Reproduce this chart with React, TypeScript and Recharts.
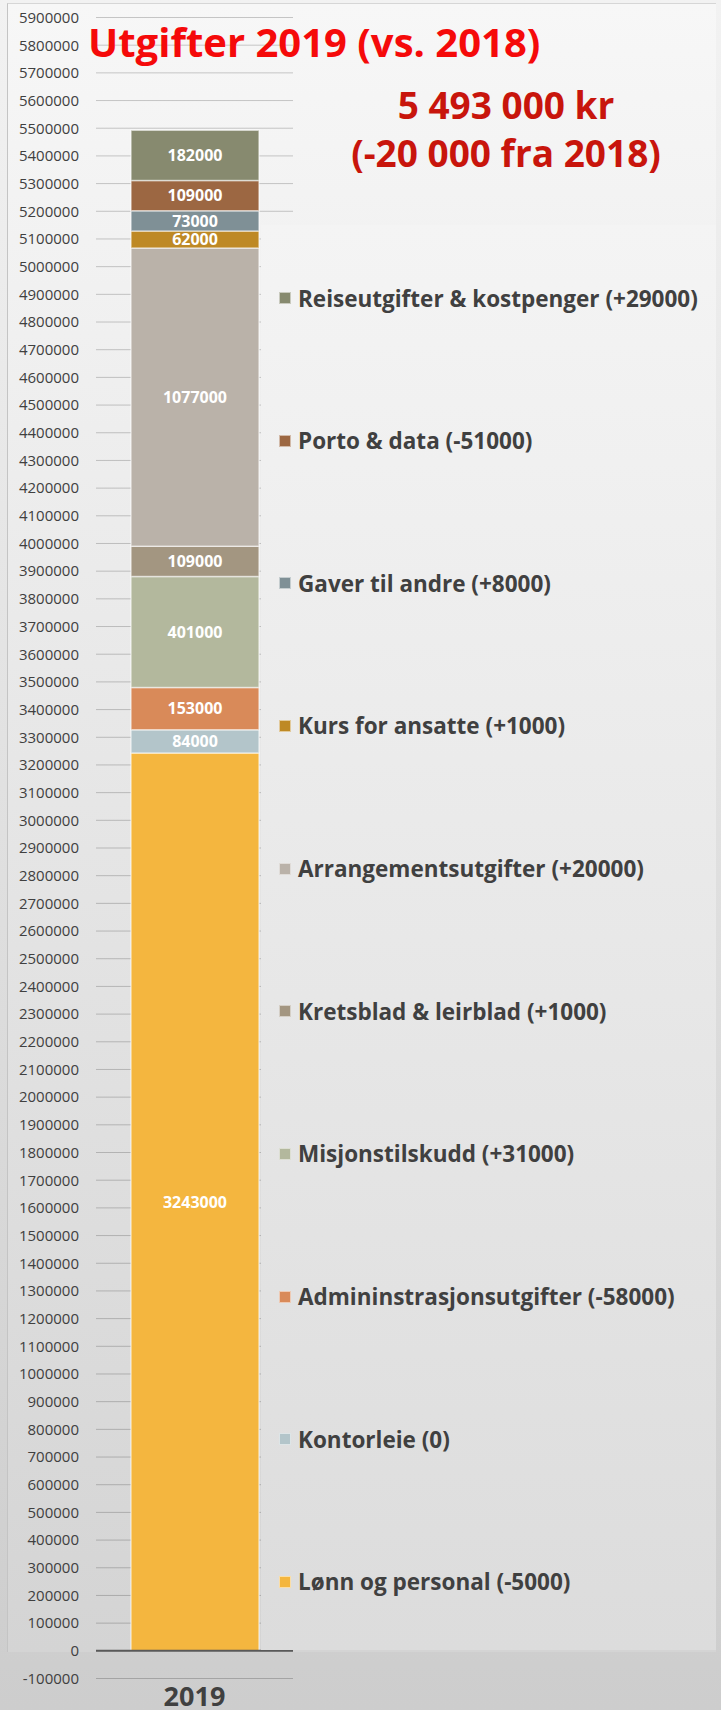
import { BarChart, Bar, XAxis, YAxis, CartesianGrid, Legend, LabelList, ReferenceLine } from 'recharts'

const YEARS = ['2019']

const CATEGORIES = [
  'Lønn og personal',
  'Kontorleie',
  'Admininstrasjonsutgifter',
  'Misjonstilskudd',
  'Kretsblad & leirblad',
  'Arrangementsutgifter',
  'Kurs for ansatte',
  'Gaver til andre',
  'Porto & data',
  'Reiseutgifter & kostpenger',
]

const VALUES_2019 = [3243000, 84000, 153000, 401000, 109000, 1077000, 62000, 73000, 109000, 182000]

const CHANGE_VS_2018 = ['-5000', '0', '-58000', '+31000', '+1000', '+20000', '+1000', '+8000', '-51000', '+29000']

const COLORS = [
  '#f4b63f',
  '#b3c5ca',
  '#d98a59',
  '#b3b89d',
  '#a39681',
  '#bab2a9',
  '#be8925',
  '#7f9096',
  '#9c6742',
  '#878a6f',
]

const Y_TICKS = [
  -100000, 0, 100000, 200000, 300000, 400000, 500000, 600000, 700000, 800000, 900000,
  1000000, 1100000, 1200000, 1300000, 1400000, 1500000, 1600000, 1700000, 1800000, 1900000,
  2000000, 2100000, 2200000, 2300000, 2400000, 2500000, 2600000, 2700000, 2800000, 2900000,
  3000000, 3100000, 3200000, 3300000, 3400000, 3500000, 3600000, 3700000, 3800000, 3900000,
  4000000, 4100000, 4200000, 4300000, 4400000, 4500000, 4600000, 4700000, 4800000, 4900000,
  5000000, 5100000, 5200000, 5300000, 5400000, 5500000, 5600000, 5700000, 5800000, 5900000,
]

const TITLE = 'Utgifter 2019 (vs. 2018)'
const TOTAL_TEXT = '5 493 000 kr'
const DIFF_TEXT = '(-20 000 fra 2018)'

const FONT = '"Open Sans", "DejaVu Sans", sans-serif'
const TEXT_GREY = '#404040'

const data = YEARS.map((year) => {
  const row: Record<string, string | number> = { year }
  CATEGORIES.forEach((_, i) => {
    row[`s${i}`] = VALUES_2019[i]
  })
  return row
})

// legend lists the top segment first, so go by series index, highest first
// eslint-disable-next-line @typescript-eslint/no-explicit-any
function LegendContent({ payload }: any) {
  const idx = (it: any) => Number(String(it.dataKey).slice(1))
  const items = [...(payload ?? [])].sort((a, b) => idx(b) - idx(a))
  return (
    <div style={{ paddingTop: 1.7, paddingLeft: 18, fontFamily: FONT }}>
      {items.map((it: any) => (
        <div key={it.value} style={{ height: 142.67, display: 'flex', alignItems: 'center' }}>
          <span
            style={{
              width: 12,
              height: 12,
              background: it.color,
              boxSizing: 'border-box',
              border: '1px solid rgba(255,255,255,0.55)',
              marginRight: 7,
              flex: 'none',
            }}
          />
          <span style={{ fontSize: 22.5, fontWeight: 700, color: TEXT_GREY, whiteSpace: 'nowrap' }}>{it.value}</span>
        </div>
      ))}
    </div>
  )
}

// eslint-disable-next-line @typescript-eslint/no-explicit-any
function YearTick({ x, y, payload }: any) {
  return (
    <text x={x} y={y + 25} textAnchor="middle" fontFamily={FONT} fontSize={27} fontWeight={700} fill={TEXT_GREY}>
      {payload.value}
    </text>
  )
}

export default function App() {
  return (
    <div
      style={{
        position: 'absolute',
        left: 0,
        top: 0,
        width: 721,
        height: 1710,
        background: 'linear-gradient(#f2f2f2, #cdcdcd)',
        overflow: 'hidden',
      }}
    >
      <div
        style={{
          position: 'absolute',
          left: 7,
          top: 3,
          width: 709,
          height: 1649,
          background: 'linear-gradient(#f7f7f7, #d4d4d4)',
          borderLeft: '1px solid #c4c4c4',
          borderTop: '1px solid #d6d6d6',
          boxSizing: 'border-box',
        }}
      />
      <div style={{ position: 'absolute', left: 0, top: 0 }}>
        <BarChart width={721} height={1710} data={data} margin={{ top: 17.5, right: 428, left: 0, bottom: 0 }}>
          <CartesianGrid vertical={false} stroke="rgba(0,0,0,0.2)" strokeWidth={1} />
          <XAxis dataKey="year" axisLine={false} tickLine={false} tickSize={0} height={31.5} tick={<YearTick />} />
          <YAxis
            type="number"
            domain={[-100000, 5900000]}
            ticks={Y_TICKS}
            interval={0}
            width={96}
            axisLine={false}
            tickLine={false}
            tickSize={0}
            tickMargin={17}
            tick={{ fontSize: 15, fill: TEXT_GREY, fontFamily: FONT }}
          />
          <ReferenceLine y={0} stroke="#595959" strokeWidth={2} />
          <Legend
            layout="vertical"
            align="center"
            verticalAlign="middle"
            content={<LegendContent />}
            wrapperStyle={{
              left: 261,
              top: 225,
              width: 455,
              height: 1425,
              background: 'linear-gradient(#f4f4f4, #dcdcdc)',
            }}
          />
          {CATEGORIES.map((cat, i) => (
            <Bar
              key={cat}
              dataKey={`s${i}`}
              name={`${cat} (${CHANGE_VS_2018[i]})`}
              stackId="total"
              fill={COLORS[i]}
              stroke="rgba(255,255,255,0.55)"
              strokeWidth={1.5}
              barSize={128}
              isAnimationActive={false}
            >
              <LabelList
                dataKey={`s${i}`}
                position="center"
                fill="#ffffff"
                fontSize={16}
                fontWeight={700}
                fontFamily={FONT}
              />
            </Bar>
          ))}
        </BarChart>
      </div>
      <div
        style={{
          position: 'absolute',
          left: 88,
          top: 21.5,
          fontFamily: FONT,
          fontSize: 40,
          fontWeight: 700,
          lineHeight: '40px',
          color: '#f50a0a',
          whiteSpace: 'nowrap',
        }}
      >
        {TITLE}
      </div>
      <div
        style={{
          position: 'absolute',
          left: 306,
          top: 80.6,
          width: 400,
          textAlign: 'center',
          fontFamily: FONT,
          fontSize: 37,
          fontWeight: 700,
          lineHeight: '48px',
          color: '#c8150c',
          whiteSpace: 'nowrap',
        }}
      >
        <div>{TOTAL_TEXT}</div>
        <div>{DIFF_TEXT}</div>
      </div>
    </div>
  )
}
